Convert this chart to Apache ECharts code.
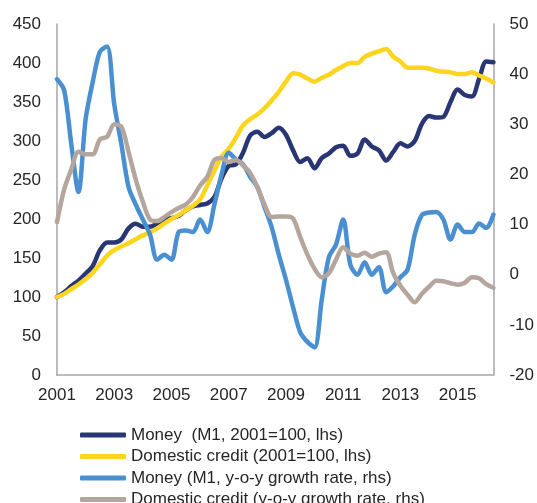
<!DOCTYPE html>
<html>
<head>
<meta charset="utf-8">
<script src="https://cdn.jsdelivr.net/npm/echarts@6/dist/echarts.min.js"></script>
<style>
  html, body { margin: 0; padding: 0; background: #fff; }
  #chart { width: 537px; height: 503px; }
</style>
</head>
<body>
<div id="chart"></div>
<script>
// quarterly points, 2001Q1 .. 2016Q2
const years = ['2001', '2002', '2003', '2004', '2005', '2006', '2007', '2008',
  '2009', '2010', '2011', '2012', '2013', '2014', '2015', '2016']
const quarters = []
years.forEach(y => { ['Q1', 'Q2', 'Q3', 'Q4'].forEach(q => quarters.push(y + q)) })
quarters.length = 62

// M1 index, 2001=100 (lhs)
const moneyIndex = [
  100, 106, 114, 121, 130, 140, 160, 170, 170, 174, 188, 194,
  190, 190, 194, 199, 201, 204, 211, 216, 218, 220, 228, 252,
  268, 270, 285, 307, 312, 305, 310, 317, 308, 288, 273, 278,
  265, 278, 284, 292, 294, 281, 284, 302, 293, 288, 275, 286,
  297, 293, 300, 322, 332, 330, 331, 350, 366, 359, 357, 380,
  402, 401
]

// domestic credit index, 2001=100 (lhs)
const creditIndex = [
  100, 104, 110, 116, 123, 131, 142, 153, 160, 165, 169, 174,
  179, 183, 188, 194, 200, 205, 211, 217, 225, 243, 262, 280,
  290, 304, 320, 328, 334, 342, 352, 363, 376, 387, 385, 380,
  376, 381, 385, 391, 396, 400, 400, 408, 412, 415, 418, 408,
  402, 394, 394, 394, 393, 390, 389, 388, 386, 386, 388, 384,
  380, 375
]

// M1 y-o-y growth, % (rhs)
const moneyGrowth = [
  39, 36.8, 26, 16.5, 31, 38.5, 44.5, 45.5, 34, 26, 17.5, 14,
  11, 8, 3, 4, 3, 8.5, 8.8, 8.5, 11, 8.5, 14, 20,
  24.3, 23, 22, 19.5, 17.5, 13.5, 9.5, 4, -1, -6.5, -11.5, -13.4,
  -14.5, -5, 3.5, 6, 11, 2, 0, 2.5, 0, 1.5, -3.5, -2.3,
  -0.5, 1, 8, 11.9, 12.4, 12.5, 11, 7, 10, 8.5, 8.5, 10.2,
  9.3, 12
]

// domestic credit y-o-y growth, % (rhs)
const creditGrowth = [
  10.5, 17, 21, 24.5, 24, 24, 27, 27.5, 30, 29.5, 24.5, 19,
  14.5, 11, 10.7, 11.5, 12.5, 13.3, 14, 15.5, 17.8, 19.5, 22.9, 23.3,
  22.5, 22.9, 21.8, 20.3, 17.5, 14, 11.5, 11.6, 11.6, 11.2, 7.5, 4,
  1.2, -0.5, 0.3, 3, 5.5, 4.2, 3.8, 4.4, 3.6, 4.2, 4.5, 0.3,
  -2.2, -4, -5.5, -3.8, -2.4, -1.2, -1.3, -1.7, -2.0, -1.6, -0.5, -0.7,
  -1.9, -2.6
]

const seriesNames = [
  'Money  (M1, 2001=100, lhs)',
  'Domestic credit (2001=100, lhs)',
  'Money (M1, y-o-y growth rate, rhs)',
  'Domestic credit (y-o-y growth rate, rhs)'
]
const colors = ['#283673', '#fdd51e', '#4a90d0', '#b4a69c']

const chart = echarts.init(document.getElementById('chart'))

const axisFont = { fontFamily: 'Liberation Sans', fontSize: 17, color: '#262626' }
const axisLineStyle = { show: true, lineStyle: { color: '#a6a6a6', width: 1.5 } }

function lineSeries(i, data, yAxisIndex) {
  return {
    name: seriesNames[i],
    type: 'line',
    data: data,
    yAxisIndex: yAxisIndex,
    symbol: 'none',
    smooth: 0.3,
    lineStyle: { color: colors[i], width: 4.5, cap: 'round', join: 'round' },
    itemStyle: { color: colors[i] },
    z: 2 + i
  }
}

chart.setOption({
  animation: false,
  color: colors,
  grid: { left: 57, right: 41, top: 24, bottom: 128 },
  legend: {
    orient: 'vertical',
    left: 75,
    top: 421,
    height: 120,
    icon: 'roundRect',
    itemWidth: 46,
    itemHeight: 5,
    itemGap: 3.5,
    textStyle: { fontFamily: 'Liberation Sans', fontSize: 17, color: '#262626', lineHeight: 18 },
    data: seriesNames
  },
  xAxis: {
    type: 'category',
    data: quarters,
    boundaryGap: false,
    axisLine: axisLineStyle,
    axisTick: { show: false },
    axisLabel: Object.assign({
      interval: 7,
      margin: 12,
      formatter: v => v.slice(0, 4)
    }, axisFont),
    splitLine: { show: false }
  },
  yAxis: [
    {
      type: 'value',
      min: 0, max: 450, interval: 50,
      axisLine: axisLineStyle,
      axisTick: { show: false },
      axisLabel: Object.assign({ margin: 16 }, axisFont),
      splitLine: { show: false }
    },
    {
      type: 'value',
      min: -20, max: 50, interval: 10,
      position: 'right',
      axisLine: axisLineStyle,
      axisTick: { show: false },
      axisLabel: Object.assign({ margin: 16 }, axisFont),
      splitLine: { show: false }
    }
  ],
  series: [
    lineSeries(0, moneyIndex, 0),
    lineSeries(1, creditIndex, 0),
    lineSeries(2, moneyGrowth, 1),
    lineSeries(3, creditGrowth, 1)
  ]
})
</script>
</body>
</html>
